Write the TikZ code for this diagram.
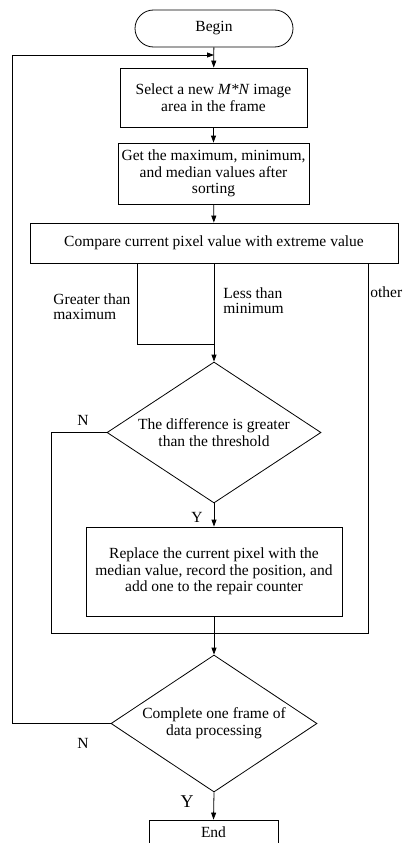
\documentclass[tikz,border=0pt]{standalone}
\usepackage{fontspec}
\setmainfont{Liberation Serif}
\usetikzlibrary{shapes.geometric,arrows.meta}
\begin{document}
\begin{tikzpicture}[x=1pt,y=-1pt,
  line width=0.8pt,
  arr/.style={-{Triangle[length=7pt,width=5pt]}},
  box/.style={draw,rectangle,inner sep=0pt,align=center,font=\fontsize{15.5}{16.5}\selectfont},
  dia/.style={draw,diamond,aspect=1.5,inner sep=0pt,align=center,font=\fontsize{15.5}{17}\selectfont},
  lbl/.style={inner sep=0pt,align=left,font=\fontsize{15.5}{15}\selectfont}]
\useasboundingbox (0,0) rectangle (405,843);

\node[box,minimum width=158pt,minimum height=37pt,rounded corners=18.5pt] (begin) at (214,28.5) {Begin};
\node[box,minimum width=187pt,minimum height=59pt] (b1) at (213.5,97.5) {Select a new \textit{M*N} image\\area in the frame};
\node[box,minimum width=191pt,minimum height=61pt] (b2) at (213.5,173.5) {Get the maximum, minimum,\\and median values after\\sorting};
\node[box,minimum width=368pt,minimum height=40pt] (b3) at (214,243) {Compare current pixel value with extreme value};
\node[dia,minimum width=214pt,minimum height=141pt] (d1) at (214,432.5) {The difference is greater\\than the threshold};
\node[box,minimum width=256pt,minimum height=89pt] (b4) at (214,571.5) {Replace the current pixel with the\\median value, record the position, and\\add one to the repair counter};
\node[dia,minimum width=206pt,minimum height=137pt] (d2) at (214,723.5) {Complete one frame of\\data processing};
\node[box,minimum width=129pt,minimum height=25pt] (end) at (213.5,832.5) {End};

% labels
\node[lbl,anchor=north west] (lgt) at (53,293) {Greater than\\maximum};
\node[lbl,anchor=north west] (llt) at (223,287) {Less than\\minimum};
\node[lbl,anchor=west] (loth) at (370,292) {other};
\node[lbl] (ln1) at (83,420) {N};
\node[lbl] (ly1) at (197,517) {Y};
\node[lbl] (ln2) at (83,743) {N};
\node[inner sep=0pt,font=\fontsize{18}{18}\selectfont] (ly2) at (187,802) {Y};

% coordinates
\coordinate (join) at (214,55);
\coordinate (lp) at (12,55);
\coordinate (g1) at (137,263);
\coordinate (g2) at (137,344);
\coordinate (g3) at (214,344);
\coordinate (o1) at (368,263);
\coordinate (br) at (368,633);
\coordinate (bl) at (51,633);

% connectors
\draw[arr] (begin) -- (b1);
\draw[arr] (b1) -- (b2);
\draw[arr] (b2) -- (b3);
\draw[arr] (b3.south) -- (d1.north);
\draw (g1) -- (g2) -- (g3);
\draw (d1.west) -| (bl) -- (br) -- (o1);
\draw[arr] (d1.south) -- (b4.north);
\draw[arr] (b4.south) -- (d2.north);
\draw[arr] (d2.south) -- (end.north);
\draw[arr] (d2.west) -| (lp) -- (join);
\end{tikzpicture}
\end{document}
